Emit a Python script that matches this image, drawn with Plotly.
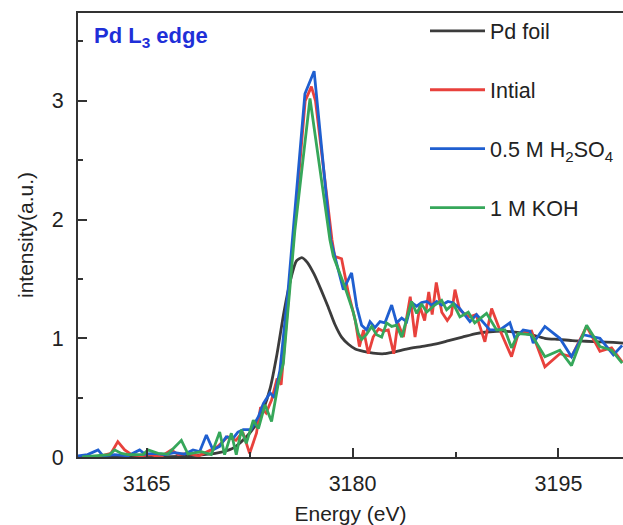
import plotly.graph_objects as go

# ---------------- data ----------------
energy_foil = [3160.0, 3165.0, 3168.0, 3170.0, 3171.0, 3171.5, 3172.0, 3172.5, 3173.0, 3173.5,
               3174.0, 3174.5, 3175.0, 3175.5, 3175.9, 3176.3, 3176.7, 3177.2, 3177.7, 3178.2,
               3178.7, 3179.2, 3179.7, 3180.2, 3180.8, 3181.5, 3182.3, 3183.0, 3184.0, 3185.0,
               3186.0, 3187.0, 3188.0, 3189.0, 3190.0, 3191.0, 3192.0, 3193.0, 3194.0, 3195.0,
               3196.0, 3197.0, 3198.0, 3199.0, 3199.7]
int_foil = [0.0, 0.0, 0.01, 0.03, 0.06, 0.09, 0.14, 0.2, 0.28, 0.4,
            0.58, 0.87, 1.22, 1.5, 1.65, 1.68, 1.64, 1.54, 1.41, 1.27,
            1.12, 1.01, 0.95, 0.91, 0.89, 0.875, 0.87, 0.885, 0.91, 0.93,
            0.95, 0.98, 1.01, 1.04, 1.055, 1.06, 1.05, 1.03, 1.0, 0.99,
            0.98, 0.975, 0.97, 0.965, 0.96]

energy_initial = [3160.3, 3161.0, 3161.7, 3162.4, 3162.9, 3163.4, 3163.9, 3164.6, 3165.3, 3166.0,
                  3166.8, 3167.3, 3168.0, 3168.8, 3169.7, 3170.2, 3170.9, 3171.5, 3172.0, 3172.5,
                  3173.0, 3173.3, 3173.7, 3174.1, 3174.5, 3174.8, 3175.7, 3176.55, 3177.0, 3177.3,
                  3178.5, 3178.7, 3179.2, 3179.7, 3180.2, 3180.5, 3180.8, 3181.15, 3181.5, 3181.9,
                  3182.25, 3182.6, 3183.0, 3183.3, 3183.7, 3184.2, 3184.55, 3184.9, 3185.25, 3185.55,
                  3185.8, 3186.1, 3186.5, 3186.9, 3187.2, 3187.46, 3187.8, 3188.2, 3188.55, 3189.0,
                  3189.64, 3190.13, 3190.73, 3191.58, 3192.07, 3193.04, 3194.01, 3195.1, 3195.95, 3197.05,
                  3198.02, 3198.87, 3199.64]
int_initial = [0.0, 0.0, 0.01, 0.03, 0.13, 0.06, 0.02, 0.01, 0.02, 0.0,
               0.06, 0.02, 0.03, 0.01, 0.06, 0.09, 0.17, 0.14, 0.21, 0.03,
               0.2, 0.42, 0.37, 0.48, 0.66, 0.61, 1.85, 3.0, 3.12, 3.0,
               1.83, 1.69, 1.67, 1.38, 1.15, 0.93, 1.07, 0.87, 1.01, 1.08,
               1.06, 1.07, 0.87, 1.13, 1.01, 1.35, 1.01, 1.27, 1.15, 1.39,
               1.2, 1.47, 1.22, 1.15, 1.2, 1.41, 1.24, 1.2, 1.18, 1.2,
               0.97, 1.25, 1.07, 0.845, 1.04, 1.06, 0.76, 0.87, 0.845, 1.1,
               0.89, 0.92, 0.8]

energy_h2so4 = [3160.0, 3160.7, 3161.46, 3161.82, 3162.67, 3163.64, 3164.49, 3164.86, 3165.58, 3166.31,
                3167.04, 3167.77, 3168.38, 3168.86, 3169.35, 3169.83, 3170.32, 3170.8, 3171.29, 3171.65,
                3172.04, 3172.6, 3173.14, 3173.5, 3173.99, 3174.3, 3174.71, 3175.3, 3176.53, 3177.2,
                3178.4, 3179.33, 3179.93, 3180.3, 3180.66, 3181.03, 3181.27, 3181.63, 3182.0, 3182.36,
                3182.85, 3183.21, 3183.58, 3183.94, 3184.3, 3184.67, 3185.03, 3185.4, 3185.76, 3186.13,
                3186.49, 3186.95, 3187.31, 3187.82, 3188.55, 3189.03, 3190.0, 3190.73, 3191.46, 3191.83,
                3192.43, 3192.92, 3193.16, 3194.01, 3195.1, 3195.95, 3196.8, 3198.02, 3199.0, 3199.64]
int_h2so4 = [0.01, 0.02, 0.06, 0.01, 0.02, 0.01, 0.06, 0.025, 0.03, 0.02,
             0.036, 0.025, 0.06, 0.045, 0.185, 0.06, 0.09, 0.17, 0.157, 0.21,
             0.23, 0.23, 0.34, 0.45, 0.54, 0.5, 0.73, 1.4, 3.06, 3.25,
             1.83, 1.41, 1.55, 1.27, 1.11, 1.07, 1.14, 1.09, 1.14, 1.13,
             1.28, 1.13, 1.17, 1.14, 1.3, 1.27, 1.3, 1.31, 1.28, 1.31,
             1.28, 1.31, 1.3, 1.25, 1.14, 1.2, 1.07, 1.07, 1.13, 1.0,
             1.07, 1.06, 0.96, 1.1, 1.0, 0.845, 1.03, 1.0, 0.86, 0.94]

energy_koh = [3160.3, 3161.3, 3162.3, 3162.67, 3163.16, 3163.64, 3164.73, 3165.1, 3165.83, 3166.55,
              3167.53, 3168.01, 3168.98, 3169.71, 3170.32, 3170.68, 3171.17, 3171.53, 3171.9, 3172.26,
              3172.77, 3173.14, 3173.62, 3174.1, 3174.59, 3174.96, 3175.8, 3176.9, 3178.35, 3178.6,
              3179.45, 3180.05, 3180.42, 3180.66, 3181.0, 3181.39, 3181.75, 3182.12, 3182.48, 3182.85,
              3183.21, 3183.58, 3183.94, 3184.3, 3184.67, 3185.03, 3185.4, 3185.88, 3186.49, 3186.85,
              3187.34, 3187.82, 3188.43, 3188.9, 3189.76, 3190.49, 3191.1, 3191.58, 3192.07, 3193.04,
              3194.01, 3195.1, 3195.95, 3197.05, 3198.02, 3198.87, 3199.64]
int_koh = [0.0, 0.01, 0.02, 0.06, 0.03, 0.02, 0.02, 0.06, 0.03, 0.025,
           0.14, 0.025, 0.045, 0.02, 0.21, 0.02, 0.2, 0.02, 0.23, 0.115,
           0.31, 0.24, 0.44, 0.3, 0.62, 0.79, 1.91, 3.02, 1.83, 1.69,
           1.43, 1.22, 1.04, 0.99, 1.03, 1.1, 1.03, 1.01, 1.13, 1.1,
           1.11, 1.01, 1.15, 1.31, 1.21, 1.29, 1.22, 1.27, 1.32, 1.24,
           1.29, 1.18, 1.22, 1.13, 1.21, 1.07, 1.07, 0.92, 1.04, 1.03,
           0.845, 0.9, 0.77, 1.11, 0.93, 0.9, 0.79]

series_names = ["Pd foil", "Intial", "0.5 M H<sub>2</sub>SO<sub>4</sub>", "1 M KOH"]
series_colors = ["#3c3c3c", "#e8413c", "#1f5fd0", "#36a75a"]

x_tickvals = [3165, 3180, 3195]
y_tickvals = [0, 1, 2, 3]

# ---------------- figure ----------------
FONT = "Arial, Liberation Sans, sans-serif"
TXT = "#222222"
fig = go.Figure()

data_sets = [
    (energy_foil, int_foil, "spline"),
    (energy_initial, int_initial, "linear"),
    (energy_h2so4, int_h2so4, "linear"),
    (energy_koh, int_koh, "linear"),
]
for i, (xs, ys, shape) in enumerate(data_sets):
    fig.add_trace(go.Scatter(
        x=xs, y=ys, mode="lines", name=series_names[i],
        line=dict(color=series_colors[i], width=2.8, shape=shape, smoothing=0.6 if shape == "spline" else None),
        legendgroup="g%d" % i,
    ))

fig.update_layout(
    width=623, height=525,
    margin=dict(l=78, r=0, t=13, b=68),
    paper_bgcolor="white", plot_bgcolor="white",
    font=dict(family=FONT, size=21, color=TXT),
    showlegend=True,
    legend=dict(
        x=0.6367, y=1.006, xanchor="left", yanchor="top",
        bgcolor="rgba(0,0,0,0)", borderwidth=0,
        font=dict(family=FONT, size=21.5, color=TXT),
        tracegroupgap=28, itemwidth=55,
    ),
    xaxis=dict(
        range=[3160, 3199.7], tickvals=x_tickvals, ticktext=[str(v) for v in x_tickvals],
        ticks="inside", ticklen=9, tickwidth=1.5, tickcolor="#333333",
        minor=dict(tickvals=[3172.5, 3187.5], ticks="inside", ticklen=5, tickwidth=1.5, tickcolor="#333333"),
        showline=True, linecolor="#333333", linewidth=2, mirror=True,
        showgrid=False, zeroline=False, ticklabelstandoff=6,
        title=dict(text="Energy (eV)", font=dict(family=FONT, size=21, color=TXT), standoff=14),
        tickfont=dict(family=FONT, size=21.5, color=TXT),
    ),
    yaxis=dict(
        range=[0, 3.74], tickvals=y_tickvals, ticktext=[str(v) for v in y_tickvals],
        ticks="inside", ticklen=9, tickwidth=1.5, tickcolor="#333333",
        minor=dict(tickvals=[0.5, 1.5, 2.5, 3.5], ticks="inside", ticklen=5, tickwidth=1.5, tickcolor="#333333"),
        showline=True, linecolor="#333333", linewidth=2, mirror=False,
        showgrid=False, zeroline=False, ticklabelstandoff=8,
        title=dict(text="intensity(a.u.)", font=dict(family=FONT, size=21, color=TXT), standoff=12),
        tickfont=dict(family=FONT, size=21.5, color=TXT),
    ),
    annotations=[dict(
        text="<b>Pd L<sub>3</sub> edge</b>", xref="paper", yref="paper",
        x=0.026, y=0.982, xanchor="left", yanchor="top", showarrow=False,
        font=dict(family=FONT, size=22, color="#1f2fd8"),
    )],
)

fig.write_html("out.html")
